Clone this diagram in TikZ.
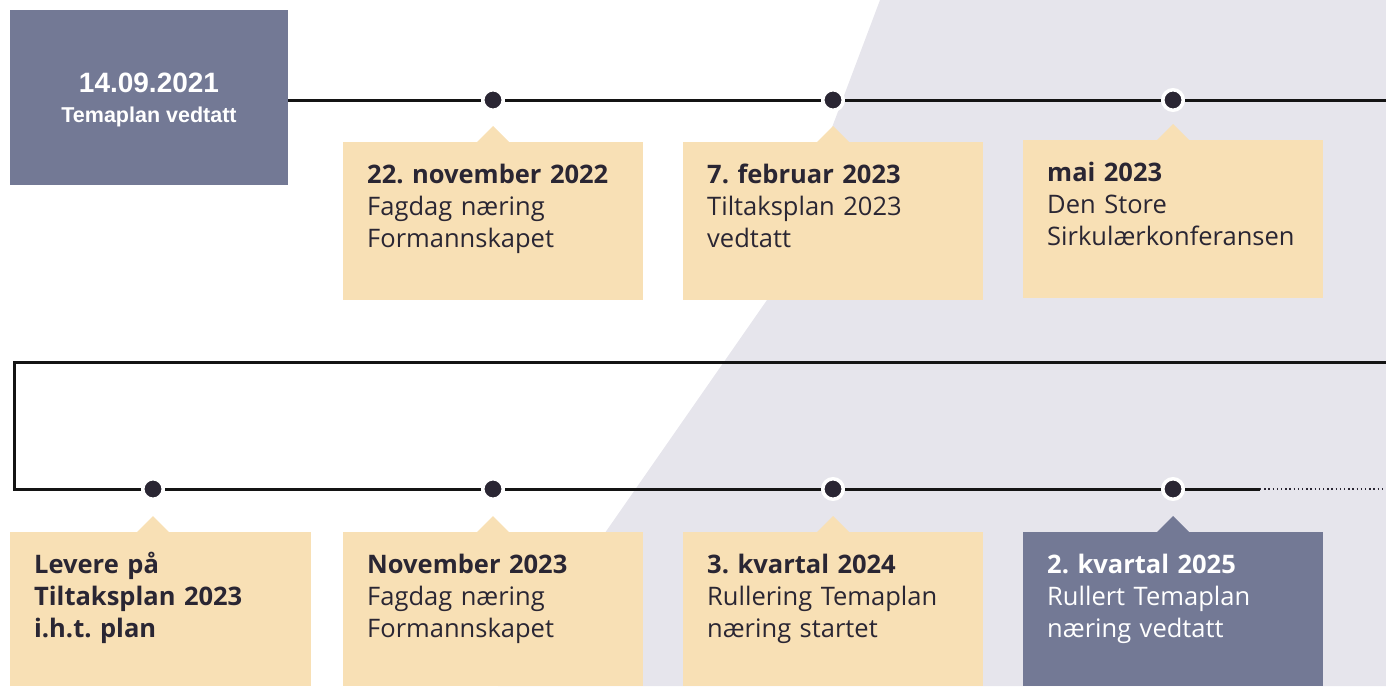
\documentclass[tikz,border=0pt]{standalone}
\usepackage{fontspec}
\setmainfont{Open Sans}
\newfontfamily\plainsans{Liberation Sans}
\usetikzlibrary{calc}
\definecolor{slate}{RGB}{115,121,149}
\definecolor{cream}{RGB}{248,224,181}
\definecolor{haze}{RGB}{230,229,236}
\definecolor{ink}{RGB}{42,38,51}
\frenchspacing

\begin{document}
\begin{tikzpicture}[x=1pt,y=-1pt,
  card/.style={fill=cream,anchor=north west,inner sep=0,minimum width=300pt,minimum height=158pt},
  darkcard/.style={card,fill=slate},
  dot/.style={circle,fill=ink,draw=white,line width=3.5pt,inner sep=0,minimum size=20.5pt},
  words/.style={anchor=base west,inner sep=0,text width=290pt,align=left,text=ink,font=\fontsize{25.5}{32}\selectfont},
  track/.style={line width=3pt,draw=black!92},
  trail/.style={line width=1.3pt,draw=ink,dash pattern=on 1.3pt off 2.9pt}]
\useasboundingbox (0,0) rectangle (1386,686);
\fill[haze] (880,0) -- (767,300) -- (607,530) -- (498,686) -- (1386,686) -- (1386,0) -- cycle;

\node[darkcard,minimum width=278pt,minimum height=175pt] (start) at (10,10) {};
\node[anchor=base,text=white,font=\plainsans\bfseries\fontsize{28}{32}\selectfont] (startdate) at (149,92) {14.09.2021};
\node[anchor=base,text=white,font=\plainsans\bfseries\fontsize{21.5}{25}\selectfont] (startnote) at (149,122.5) {Temaplan vedtatt};

\node[card] (c1) at (343,142) {};
\node[card] (c2) at (683,142) {};
\node[card] (c3) at (1023,140) {};
\node[card,minimum width=301pt,minimum height=154pt] (k1) at (10,532) {};
\node[card,minimum height=154pt] (k2) at (343,532) {};
\node[card,minimum height=154pt] (k3) at (683,532) {};
\node[darkcard,minimum height=154pt] (k4) at (1023,532) {};

\foreach \x [count=\i] in {493,833,1173}
  \node[dot] (d\i) at (\x,100) {};
\foreach \x [count=\i] in {153,493,833,1173}
  \node[dot] (e\i) at (\x,489) {};

\foreach \d/\c in {d1/c1,d2/c2,d3/c3,e1/k1,e2/k2,e3/k3}
  \fill[cream] ($(\d |- \c.north)+(-16,0)$) -- ++(16,-16) -- ++(16,16) -- cycle;
\fill[slate] ($(e4 |- k4.north)+(-16,0)$) -- ++(16,-16) -- ++(16,16) -- cycle;

\coordinate (topend) at (1386,100);
\coordinate (wrapstart) at (1386,362);
\coordinate (wrapleft) at (14,362);
\coordinate (wrapdown) at (14,489);
\coordinate (fadeout) at (1260,489);
\coordinate (rowend) at (1386,489);
\draw[track] (start.east |- d1) -- (d1) -- (d2) -- (d3) -- (topend);
\draw[track] (wrapstart) -- (wrapleft) -- (wrapdown) -- (e1) -- (e2) -- (e3) -- (e4) -- (fadeout);
\draw[trail] (fadeout) -- (rowend);

\node[words] (c1text) at ($(c1.north west)+(24,41)$) {\textbf{22. november 2022}\\Fagdag næring\\Formannskapet};
\node[words] (c2text) at ($(c2.north west)+(24,41)$) {\textbf{7. februar 2023}\\Tiltaksplan 2023\\vedtatt};
\node[words] (c3text) at ($(c3.north west)+(24,41)$) {\textbf{mai 2023}\\Den Store\\Sirkulærkonferansen};
\node[words] (k1text) at ($(k1.north west)+(24,41)$) {\textbf{Levere på}\\\textbf{Tiltaksplan 2023}\\\textbf{i.h.t. plan}};
\node[words] (k2text) at ($(k2.north west)+(24,41)$) {\textbf{November 2023}\\Fagdag næring\\Formannskapet};
\node[words] (k3text) at ($(k3.north west)+(24,41)$) {\textbf{3. kvartal 2024}\\Rullering Temaplan\\næring startet};
\node[words,text=white] (k4text) at ($(k4.north west)+(24,41)$) {\textbf{2. kvartal 2025}\\Rullert Temaplan\\næring vedtatt};
\end{tikzpicture}
\end{document}
